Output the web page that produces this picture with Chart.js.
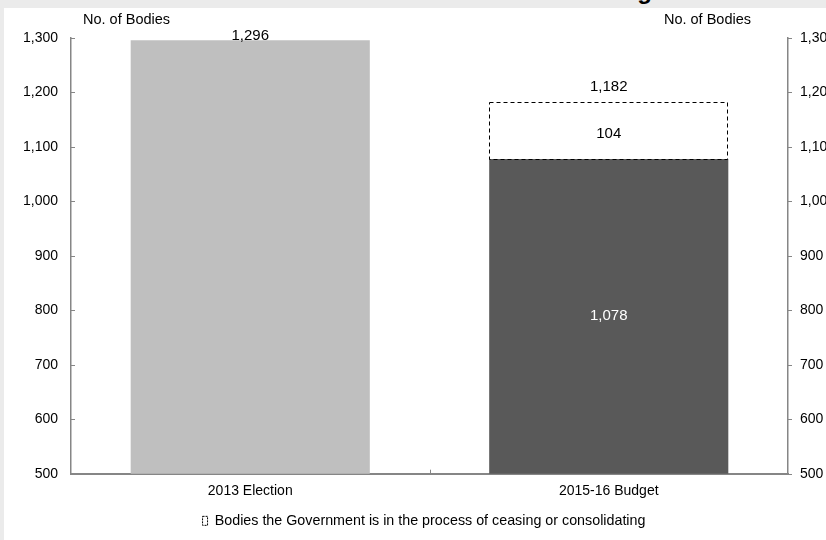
<!DOCTYPE html>
<html>
<head>
<meta charset="utf-8">
<script src="https://cdn.jsdelivr.net/npm/chart.js@4.4.1/dist/chart.umd.min.js"></script>
<style>
  html, body { margin: 0; padding: 0; width: 826px; height: 540px; overflow: hidden; background: #ebebeb; }
  #panel { position: absolute; left: 4px; top: 8px; width: 840px; height: 532px; background: #fff; }
  #title { position: absolute; top: -21px; left: 0; width: 652px; text-align: right; white-space: nowrap;
           font: bold 24px "Liberation Sans", Arial, sans-serif; line-height: 24px; color: #000; }
</style>
</head>
<body>
<div id="panel"><canvas id="chart"></canvas></div>
<div id="title">Number of Government Bodies Reducing</div>
<script>
const categories = ["2013 Election", "2015-16 Budget"];
const remainingBodies = [1296, 1078];
const ceasingBodies = [null, 104];
const totalBodies = [null, 1182];
const yMin = 500, yMax = 1300, yStep = 100;
const axisTitle = "No. of Bodies";
const legendText = "Bodies the Government is in the process of ceasing or consolidating";

const FONT = '"Liberation Sans", Arial, sans-serif';
const AXIS = "#868686";
const fmt = (v) => v.toLocaleString("en-US");

// bar value labels + dashed outline round the ceasing part
const barLabels = {
  id: "barLabels",
  afterDatasetsDraw(chart) {
    const ctx = chart.ctx;
    const bottom = chart.chartArea.bottom;
    const rem = chart.getDatasetMeta(0).data;
    const ces = chart.getDatasetMeta(1).data;
    ctx.save();
    ctx.textAlign = "center";
    ctx.textBaseline = "middle";
    ctx.font = "15px " + FONT;
    rem.forEach((bar, i) => {
      if (ceasingBodies[i] == null) {
        ctx.fillStyle = "#000";
        ctx.fillText(fmt(remainingBodies[i]), bar.x, bar.y - 4);
        return;
      }
      ctx.fillStyle = "#fff";
      ctx.fillText(fmt(remainingBodies[i]), bar.x, (bar.y + Math.min(bar.base, bottom)) / 2);
      const c = ces[i];
      const left = Math.round(c.x - c.width / 2) + 0.5;
      ctx.setLineDash([4, 3]);
      ctx.strokeStyle = "#000";
      ctx.lineWidth = 1;
      ctx.strokeRect(left, Math.round(c.y) + 0.5, Math.round(c.width) - 1, Math.round(c.base - c.y));
      ctx.setLineDash([]);
      ctx.fillStyle = "#000";
      ctx.fillText(fmt(ceasingBodies[i]), c.x, (c.y + c.base) / 2 + 3);
      ctx.fillText(fmt(totalBodies[i]), c.x, c.y - 15);
    });
    ctx.restore();
  },
  afterDraw(chart) {
    const ctx = chart.ctx;
    const { y, y2, x } = chart.scales;
    ctx.save();
    ctx.strokeStyle = AXIS;
    ctx.lineWidth = 1;
    // small tick marks, all pointing right like the original
    [[y, y.right], [y2, y2.left]].forEach(([s, ax]) => {
      s.ticks.forEach((t, i) => {
        const py = Math.round(s.getPixelForTick(i)) + 0.5;
        ctx.beginPath();
        ctx.moveTo(ax, py);
        ctx.lineTo(ax + 4, py);
        ctx.stroke();
      });
    });
    const mx = Math.round(x.getPixelForValue(0.5)) + 0.5;
    ctx.beginPath();
    ctx.moveTo(mx, x.top);
    ctx.lineTo(mx, x.top - 4);
    ctx.stroke();
    // axis captions above both value axes
    ctx.fillStyle = "#000";
    ctx.font = "14.5px " + FONT;
    ctx.textBaseline = "middle";
    ctx.textAlign = "left";
    ctx.fillText(axisTitle, y.right + 12, 12);
    ctx.textAlign = "right";
    ctx.fillText(axisTitle, y2.left - 37, 12);
    ctx.restore();
  },
};

const yAxis = (pos, width, pad) => ({
  type: "linear",
  position: pos,
  stacked: true,
  min: yMin,
  max: yMax,
  ticks: { stepSize: yStep, padding: pad, color: "#000", font: { size: 14, family: FONT }, callback: (v) => fmt(v) },
  grid: { drawOnChartArea: false, drawTicks: false },
  border: { color: AXIS, width: 1.5 },
  afterFit: (s) => { s.width = width; },
});

new Chart(document.getElementById("chart"), {
  type: "bar",
  data: {
    labels: categories,
    datasets: [
      { label: "Remaining", data: remainingBodies, backgroundColor: ["#bfbfbf", "#595959"], borderWidth: 0 },
      { label: legendText, data: ceasingBodies, backgroundColor: "#ffffff", borderWidth: 0 },
    ],
  },
  options: {
    animation: false,
    responsive: true,
    maintainAspectRatio: false,
    categoryPercentage: 1,
    barPercentage: 0.667,
    layout: { padding: { top: 30, left: 0, right: 0, bottom: 2 } },
    scales: {
      x: {
        stacked: true,
        offset: true,
        ticks: { padding: 9, color: "#000", font: { size: 14, family: FONT } },
        grid: { drawOnChartArea: false, drawTicks: false },
        border: { color: AXIS, width: 2 },
        afterFit: (s) => { s.height = 30; },
      },
      y: yAxis("left", 67, 13),
      y2: yAxis("right", 56, 12),
    },
    plugins: {
      tooltip: { enabled: false },
      legend: {
        position: "bottom",
        labels: {
          boxWidth: 5,
          boxHeight: 9,
          padding: 10,
          color: "#000",
          font: { size: 14.3, family: FONT },
          generateLabels: () => [{
            text: legendText, fillStyle: "#fff", strokeStyle: "#000",
            lineWidth: 1, lineDash: [2, 1], hidden: false, datasetIndex: 1,
          }],
        },
      },
    },
  },
  plugins: [barLabels],
});
</script>
</body>
</html>
